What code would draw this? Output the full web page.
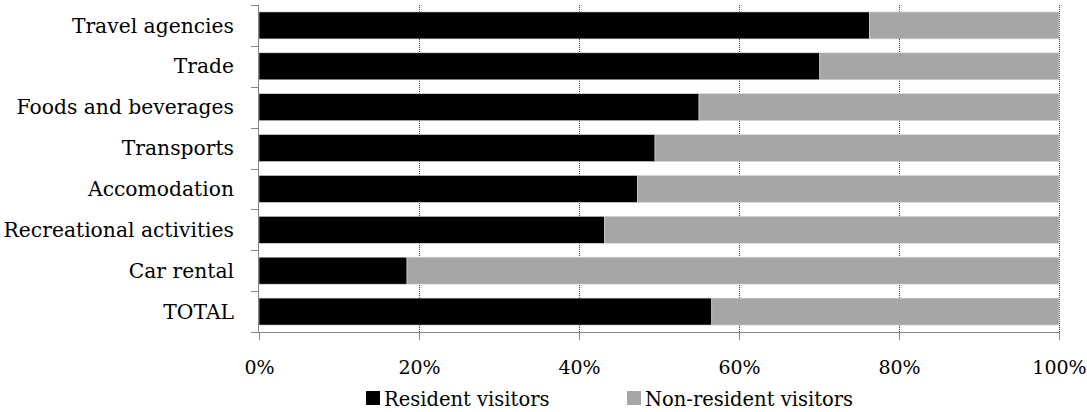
<!DOCTYPE html>
<html>
<head>
<meta charset="utf-8">
<script src="https://cdn.jsdelivr.net/npm/d3@7"></script>
<style>
  body { margin: 0; background: #fff; }
  svg text { font-family: 'Book Antiqua', 'Palatino Linotype', 'DejaVu Serif', serif; fill: #000; }
</style>
</head>
<body>
<div id="chart"></div>
<script>
// Share of spending by visitor type, per tourism sector
const categories = ['Travel agencies', 'Trade', 'Foods and beverages', 'Transports',
  'Accomodation', 'Recreational activities', 'Car rental', 'TOTAL']
const resident = [76.3, 70.1, 55.0, 49.5, 47.3, 43.2, 18.5, 56.6]
const nonResident = resident.map((v) => 100 - v)
const seriesNames = ['Resident visitors', 'Non-resident visitors']
const xTicks = [0, 20, 40, 60, 80, 100]

const width = 1087
const height = 412
const margin = { top: 5, right: 28, bottom: 80, left: 259 }
const colors = ['#000000', '#a6a6a6']

const svg = d3
  .select('#chart')
  .append('svg')
  .attr('width', width)
  .attr('height', height)

const x = d3
  .scaleLinear()
  .domain([0, 100])
  .range([margin.left, width - margin.right])

const y = d3
  .scaleBand()
  .domain(categories)
  .range([margin.top, height - margin.bottom])
  .paddingInner(0.34)
  .paddingOuter(0.17)

// Dotted gridlines behind bars
svg
  .append('g')
  .selectAll('line')
  .data(xTicks.slice(1))
  .join('line')
  .attr('x1', (d) => x(d) + 0.5)
  .attr('x2', (d) => x(d) + 0.5)
  .attr('y1', margin.top)
  .attr('y2', height - margin.bottom)
  .attr('stroke', '#333')
  .attr('stroke-width', 1)
  .attr('stroke-dasharray', '1,1')

// Stack the two series
const rows = categories.map((c, i) => ({ cat: c, res: resident[i], non: nonResident[i] }))
const stacked = d3.stack().keys(['res', 'non'])(rows)

svg
  .append('g')
  .selectAll('g')
  .data(stacked)
  .join('g')
  .attr('fill', (d, i) => colors[i])
  .selectAll('rect')
  .data((d) => d)
  .join('rect')
  .attr('x', (d) => x(d[0]))
  .attr('width', (d) => x(d[1]) - x(d[0]))
  .attr('y', (d) => y(d.data.cat))
  .attr('height', y.bandwidth())
  .attr('stroke', '#d9d9d9')
  .attr('stroke-width', 0.6)

// Left axis: labels and ticks at band boundaries
const yAxisG = svg.append('g')
yAxisG
  .append('line')
  .attr('x1', margin.left - 0.5)
  .attr('x2', margin.left - 0.5)
  .attr('y1', margin.top)
  .attr('y2', height - margin.bottom)
  .attr('stroke', '#868686')

const bounds = categories.map((c) => y(c) - (y.step() * y.paddingInner()) / 2)
bounds.push(height - margin.bottom)
yAxisG
  .selectAll('.ytick')
  .data(bounds)
  .join('line')
  .attr('class', 'ytick')
  .attr('x1', margin.left - 8)
  .attr('x2', margin.left)
  .attr('y1', (d) => Math.round(d) + 0.5)
  .attr('y2', (d) => Math.round(d) + 0.5)
  .attr('stroke', '#868686')

yAxisG
  .selectAll('text')
  .data(categories)
  .join('text')
  .attr('x', margin.left - 25)
  .attr('y', (d) => y(d) + y.bandwidth() / 2)
  .attr('dy', '0.35em')
  .attr('text-anchor', 'end')
  .style('font-size', '20.3px')
  .text((d) => d)

// Bottom axis
const xAxis = d3
  .axisBottom(x)
  .tickValues(xTicks)
  .tickSize(8)
  .tickPadding(21)
  .tickFormat((d) => d + '%')

const xAxisG = svg
  .append('g')
  .attr('transform', `translate(0,${height - margin.bottom})`)
  .call(xAxis)
xAxisG.select('.domain').attr('stroke', '#868686').attr('d', `M${margin.left},0.5H${width - margin.right}`)
xAxisG.selectAll('.tick line').attr('stroke', '#868686')
xAxisG.selectAll('.tick text').style('font-size', '19px').attr('fill', '#000')

// Legend
const legendX = [366, 627]
const legend = svg
  .append('g')
  .selectAll('g')
  .data(seriesNames)
  .join('g')
  .attr('transform', (d, i) => `translate(${legendX[i]},391)`)

legend
  .append('rect')
  .attr('width', 14)
  .attr('height', 14)
  .attr('fill', (d, i) => colors[i])

legend
  .append('text')
  .attr('x', 18)
  .attr('y', 15)
  .style('font-size', '19.5px')
  .text((d) => d)
</script>
</body>
</html>
